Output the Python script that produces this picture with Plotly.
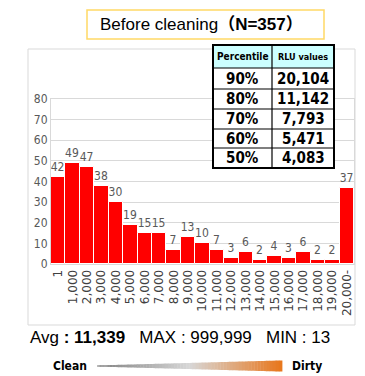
import plotly.graph_objects as go

categories = ["1", "1,000", "2,000", "3,000", "4,000", "5,000", "6,000", "7,000", "8,000", "9,000",
              "10,000", "11,000", "12,000", "13,000", "14,000", "15,000", "16,000", "17,000",
              "18,000", "19,000", "20,000-"]
counts = [42, 49, 47, 38, 30, 19, 15, 15, 7, 13, 10, 7, 3, 6, 2, 4, 3, 6, 2, 2, 37]
table_header = ["Percentile", "RLU values"]
percentiles = ["90%", "80%", "70%", "60%", "50%"]
rlu_values = ["20,104", "11,142", "7,793", "5,471", "4,083"]
title_text = "Before cleaning"
n_total = 357
avg_val, max_val, min_val = "11,339", "999,999", "13"

# the page body adds an 8px margin, so the figure is drawn 8px in from the window edge
OFF = 8
W, H = 365 - OFF, 376 - OFF


def px(x):
    return (x - OFF) / W


def py(y):
    return 1 - (y - OFF) / H


fig = go.Figure()
fig.add_trace(go.Bar(
    x=categories, y=counts, text=counts, textposition="outside",
    marker=dict(color="#FF0000", line=dict(color="white", width=1)),
    textfont=dict(family="DejaVu Sans Condensed, DejaVu Sans", size=12, color="#595959"),
    cliponaxis=False, hoverinfo="skip",
))

shapes = []
annotations = []
# chart panel border
shapes.append(dict(type="rect", xref="paper", yref="paper", x0=px(28), x1=px(355), y0=py(325), y1=py(49),
                   line=dict(color="#D9D9D9", width=1), layer="below"))
# title box
shapes.append(dict(type="rect", xref="paper", yref="paper", x0=px(87), x1=px(324), y0=py(39), y1=py(10),
                   line=dict(color="#FFD966", width=1.5)))

# table
col_x = [213, 272, 334]
row_y = [45, 68, 89, 109, 129, 148, 168]
shapes.append(dict(type="rect", xref="paper", yref="paper", x0=px(col_x[0]), x1=px(col_x[2]),
                   y0=py(row_y[1]), y1=py(row_y[0]), fillcolor="#CCFFFF", line=dict(width=0)))
shapes.append(dict(type="rect", xref="paper", yref="paper", x0=px(col_x[0]), x1=px(col_x[2]),
                   y0=py(row_y[-1]), y1=py(row_y[1]), fillcolor="white", line=dict(width=0)))
for yy in row_y[1:-1]:
    shapes.append(dict(type="line", xref="paper", yref="paper", x0=px(col_x[0]), x1=px(col_x[2]),
                       y0=py(yy), y1=py(yy), line=dict(color="black", width=1.2)))
shapes.append(dict(type="line", xref="paper", yref="paper", x0=px(col_x[1]), x1=px(col_x[1]),
                   y0=py(row_y[0]), y1=py(row_y[-1]), line=dict(color="black", width=1.2)))
shapes.append(dict(type="rect", xref="paper", yref="paper", x0=px(col_x[0]), x1=px(col_x[2]),
                   y0=py(row_y[-1]), y1=py(row_y[0]), line=dict(color="black", width=2)))

hdr_sizes = [10, 9]
for j, h in enumerate(table_header):
    annotations.append(dict(x=px((col_x[j] + col_x[j + 1]) / 2), y=py((row_y[0] + row_y[1]) / 2),
                            xref="paper", yref="paper", showarrow=False, xanchor="center", yanchor="middle",
                            text="<b>%s</b>" % h,
                            font=dict(family="DejaVu Sans Condensed, DejaVu Sans", size=hdr_sizes[j],
                                      color="black")))
for i in range(len(percentiles)):
    yc_ = py((row_y[i + 1] + row_y[i + 2]) / 2)
    for j, v in enumerate([percentiles[i], rlu_values[i]]):
        annotations.append(dict(x=px((col_x[j] + col_x[j + 1]) / 2), y=yc_,
                                xref="paper", yref="paper", showarrow=False, xanchor="center",
                                yanchor="middle", text="<b>%s</b>" % v,
                                font=dict(family="DejaVu Sans Condensed, DejaVu Sans", size=15,
                                          color="black")))

# gradient triangle
def lerp(c1, c2, t):
    return tuple(int(round(a + (b - a) * t)) for a, b in zip(c1, c2))

stops = [(0.0, (128, 128, 128)), (0.5, (215, 215, 215)), (1.0, (232, 118, 27))]
x0t, x1t, yc = 97, 282, 366
nseg = 60
for i in range(nseg):
    t0, t1 = i / nseg, (i + 1) / nseg
    tm = (t0 + t1) / 2
    if tm <= 0.5:
        c = lerp(stops[0][1], stops[1][1], tm / 0.5)
    else:
        c = lerp(stops[1][1], stops[2][1], (tm - 0.5) / 0.5)
    xa = x0t + (x1t - x0t) * t0
    xb = x0t + (x1t - x0t) * t1 + 0.4
    ha = 0.6 + 5.0 * t0
    hb = 0.6 + 5.0 * t1
    path = "M %f %f L %f %f L %f %f L %f %f Z" % (
        px(xa), py(yc - ha), px(xb), py(yc - hb), px(xb), py(yc + hb), px(xa), py(yc + ha))
    shapes.append(dict(type="path", xref="paper", yref="paper", path=path,
                       fillcolor="rgb(%d,%d,%d)" % c, line=dict(width=0)))

annotations += [
    dict(x=px(202), y=py(24.5), xref="paper", yref="paper", showarrow=False, yanchor="middle",
         text=title_text + "<b>（N=%d）</b>" % n_total,
         font=dict(family="Liberation Sans, Noto Sans CJK JP", size=17, color="black")),
    dict(x=px(180), y=py(337), xref="paper", yref="paper", showarrow=False, yanchor="middle",
         text="Avg<b> : %s</b>&nbsp;&nbsp;&nbsp;MAX : %s&nbsp;&nbsp;&nbsp;MIN : %s" % (avg_val, max_val, min_val),
         font=dict(family="Liberation Sans", size=17, color="black")),
    dict(x=px(89), y=py(366), xref="paper", yref="paper", showarrow=False, xanchor="right", yanchor="middle",
         text="<b>Clean</b>", font=dict(family="DejaVu Sans Condensed, DejaVu Sans", size=12, color="black")),
    dict(x=px(290), y=py(366), xref="paper", yref="paper", showarrow=False, xanchor="left", yanchor="middle",
         text="<b>Dirty</b>", font=dict(family="DejaVu Sans Condensed, DejaVu Sans", size=12, color="black")),
]

fig.update_layout(
    width=W, height=H, margin=dict(l=0, r=0, t=0, b=0),
    paper_bgcolor="white", plot_bgcolor="white", showlegend=False,
    bargap=0, shapes=shapes, annotations=annotations,
    xaxis=dict(domain=[px(51), px(354)], tickangle=-90, showgrid=False,
               tickfont=dict(family="DejaVu Sans", size=12, color="#404040"),
               showline=True, linecolor="#D9D9D9", mirror=True, ticks="", automargin=False),
    yaxis=dict(domain=[py(264), py(99)], range=[0, 80], dtick=10, showgrid=True, gridcolor="#D9D9D9",
               tickfont=dict(family="DejaVu Sans Condensed, DejaVu Sans", size=12, color="#595959"),
               showline=True, linecolor="#D9D9D9", mirror=True, zeroline=False, automargin=False),
)

fig.write_html("out.html")
